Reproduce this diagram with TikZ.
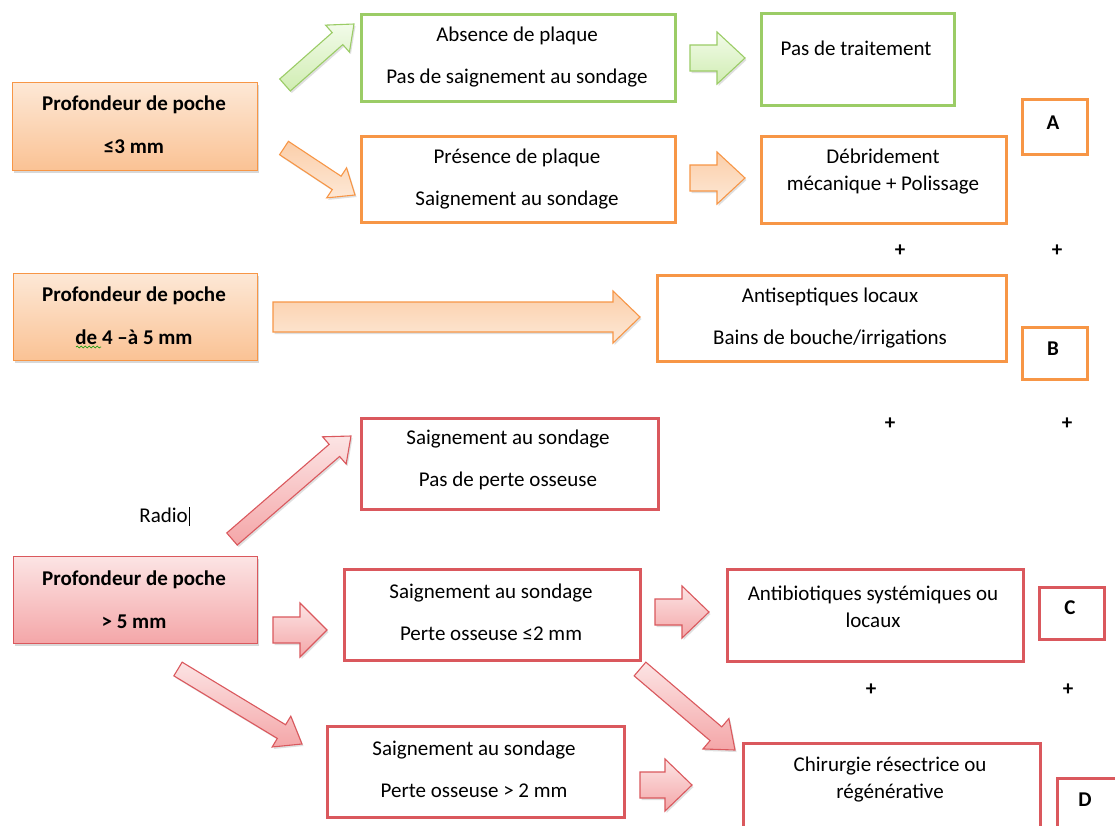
\documentclass[tikz,border=0pt]{standalone}
\usepackage{fontspec}
\setmainfont{Carlito}
\usetikzlibrary{calc,shadows,decorations.pathmorphing}
\definecolor{gline}{RGB}{155,204,102}
\definecolor{oline}{RGB}{247,150,70}
\definecolor{rline}{RGB}{218,88,93}
\definecolor{gtop}{RGB}{242,251,233}
\definecolor{gbot}{RGB}{208,237,178}
\definecolor{otop}{RGB}{253,232,214}
\definecolor{obot}{RGB}{250,194,148}
\definecolor{rtop}{RGB}{252,228,228}
\definecolor{rbot}{RGB}{244,166,168}
\newcommand\blockarrow[6]{%
  \path[#1] let \p1=($(#3)-(#2)$), \n1={atan2(\y1,\x1)}, \n2={veclen(\x1,\y1)-#6} in
    ($(#2)+(\n1+90:#4pt)$) -- ($(#2)+(\n1:\n2)+(\n1+90:#4pt)$) --
    ($(#2)+(\n1:\n2)+(\n1+90:#5pt)$) -- (#3) --
    ($(#2)+(\n1:\n2)+(\n1-90:#5pt)$) -- ($(#2)+(\n1:\n2)+(\n1-90:#4pt)$) --
    ($(#2)+(\n1-90:#4pt)$) -- cycle;}
\tikzset{
  box/.style={draw, line width=2.6pt, inner sep=0pt, anchor=north west},
  pbox/.style={draw=oline, line width=1.2pt, inner sep=0pt, anchor=north west,
    drop shadow={opacity=0.3, shadow xshift=1.5pt, shadow yshift=-2pt}},
  obox/.style={pbox, top color=otop, bottom color=obot},
  rbox/.style={pbox, draw=rline, top color=rtop, bottom color=rbot},
  txt/.style={font=\fontsize{21}{42}\selectfont, align=center, inner sep=0pt},
  txtn/.style={font=\fontsize{21}{27}\selectfont, align=center, inner sep=0pt},
  btxt/.style={font=\fontsize{21}{43}\selectfont\bfseries, align=center, inner sep=0pt},
  plus/.style={font=\fontsize{21}{21}\selectfont\bfseries, inner sep=0pt},
  arr/.style={line width=1.1pt, drop shadow={opacity=0.25, shadow xshift=1.5pt, shadow yshift=-2pt}},
  garr/.style={arr, draw=gline, top color=gtop, bottom color=gbot},
  oarr/.style={arr, draw=oline, top color=obot!80!white, bottom color=otop},
  rarr/.style={arr, draw=rline, top color=rtop, bottom color=rbot},
}
\begin{document}
\begin{tikzpicture}[x=1pt,y=-1pt]
\useasboundingbox (0,0) rectangle (1115,825);
\fill[white] (0,0) rectangle (1115,825);
\clip (0,0) rectangle (1115,825);

% left boxes
\node[obox, minimum width=245pt, minimum height=88pt] (p1) at (12,82) {};
\node[obox, minimum width=244pt, minimum height=87pt] (p2) at (13,273) {};
\node[rbox, minimum width=244pt, minimum height=87pt] (p3) at (13,556) {};
\node[btxt] (p1t) at (134,125) {Profondeur de poche\\≤3 mm};
\node[btxt] (p2t) at (134,316) {Profondeur de poche\\de 4 –à 5 mm};
\node[btxt] (p3t) at (134,600) {Profondeur de poche\\> 5 mm};
\draw[green!60!black, line width=0.6pt, decorate, decoration={snake, amplitude=0.9pt, segment length=4pt}] (76,347) -- (101,347);

% outline boxes
\node[box, draw=gline, minimum width=314pt, minimum height=87pt] (g1) at (360,13) {};
\node[box, draw=gline, minimum width=193pt, minimum height=92pt] (g2) at (760,12) {};
\node[box, draw=oline, minimum width=314pt, minimum height=86pt] (o1) at (360,135) {};
\node[box, draw=oline, minimum width=245pt, minimum height=87pt] (o2) at (760,135) {};
\node[box, draw=oline, minimum width=65pt, minimum height=55pt] (bA) at (1021,98) {};
\node[box, draw=oline, minimum width=349pt, minimum height=86pt] (o3) at (656,274) {};
\node[box, draw=oline, minimum width=65pt, minimum height=52pt] (bB) at (1021,326) {};
\node[box, draw=rline, minimum width=297pt, minimum height=91pt] (r1) at (360,417) {};
\node[box, draw=rline, minimum width=296pt, minimum height=91pt] (r2) at (343,568) {};
\node[box, draw=rline, minimum width=296pt, minimum height=92pt] (r3) at (726,568) {};
\node[box, draw=rline, minimum width=65pt, minimum height=52pt] (bC) at (1038,586) {};
\node[box, draw=rline, minimum width=297pt, minimum height=91pt] (r4) at (326,725) {};
\node[box, draw=rline, minimum width=297pt, minimum height=120pt] (r5) at (742,742) {};
\node[box, draw=rline, minimum width=80pt, minimum height=80pt] (bD) at (1056,777) {};

% texts
\node[txt] (g1t) at (517,57) {Absence de plaque\\Pas de saignement au sondage};
\node[txt] (g2t) at (856,48) {Pas de traitement};
\node[txt] (o1t) at (517,179) {Présence de plaque\\Saignement au sondage};
\node[txtn] (o2t) at (883,172) {Débridement\\mécanique + Polissage};
\node[txt] (o3t) at (830,318) {Antiseptiques locaux\\Bains de bouche/irrigations};
\node[txt] (r1t) at (508,460) {Saignement au sondage\\Pas de perte osseuse};
\node[txt] (r2t) at (491,612) {Saignement au sondage\\Perte osseuse ≤2 mm};
\node[txtn] (r3t) at (873,607) {Antibiotiques systémiques ou\\locaux};
\node[txt] (r4t) at (474,769) {Saignement au sondage\\Perte osseuse > 2 mm};
\node[txtn] (r5t) at (890,779) {Chirurgie résectrice ou\\régénérative};
\node[plus] (lA) at (1053,123) {A};
\node[plus] (lB) at (1053,349) {B};
\node[plus] (lC) at (1070,608) {C};
\node[plus] (lD) at (1085,800) {D};
\node[plus] (pl1) at (900,251) {+};
\node[plus] (pl2) at (1057,251) {+};
\node[plus] (pl3) at (890,424) {+};
\node[plus] (pl4) at (1067,424) {+};
\node[plus] (pl5) at (871,690) {+};
\node[plus] (pl6) at (1068,690) {+};
\node[txt, anchor=east] (radio) at (188,515) {Radio};
\draw[line width=0.8pt] ([xshift=1.5pt]radio.north east) -- ([xshift=1.5pt,yshift=-3pt]radio.south east);

% arrow coordinates
\coordinate (ga1a) at (285,85);  \coordinate (ga1b) at (354,24);
\coordinate (ga2a) at (690,58);  \coordinate (ga2b) at (745,58);
\coordinate (oa1a) at (284,148); \coordinate (oa1b) at (355,195);
\coordinate (oa2a) at (690,178); \coordinate (oa2b) at (745,178);
\coordinate (oa3a) at (273,317); \coordinate (oa3b) at (640,317);
\coordinate (ra1a) at (232,539); \coordinate (ra1b) at (351,436);
\coordinate (ra2a) at (273,630); \coordinate (ra2b) at (327,630);
\coordinate (ra3a) at (178,669); \coordinate (ra3b) at (302,744);
\coordinate (ra4a) at (655,612); \coordinate (ra4b) at (709,612);
\coordinate (ra5a) at (640,669); \coordinate (ra5b) at (735,750);
\coordinate (ra6a) at (640,785); \coordinate (ra6b) at (692,785);

\blockarrow{garr}{ga1a}{ga1b}{8}{18}{22}
\blockarrow{garr}{ga2a}{ga2b}{13}{26}{28}
\blockarrow{oarr}{oa1a}{oa1b}{8}{18}{22}
\blockarrow{oarr}{oa2a}{oa2b}{13}{26}{28}
\blockarrow{oarr}{oa3a}{oa3b}{15}{26}{27}
\blockarrow{rarr}{ra1a}{ra1b}{8}{18}{22}
\blockarrow{rarr}{ra2a}{ra2b}{13}{27}{27}
\blockarrow{rarr}{ra3a}{ra3b}{8}{18}{24}
\blockarrow{rarr}{ra4a}{ra4b}{13}{26}{27}
\blockarrow{rarr}{ra5a}{ra5b}{9}{20}{25}
\blockarrow{rarr}{ra6a}{ra6b}{13}{26}{27}
\end{tikzpicture}
\end{document}
